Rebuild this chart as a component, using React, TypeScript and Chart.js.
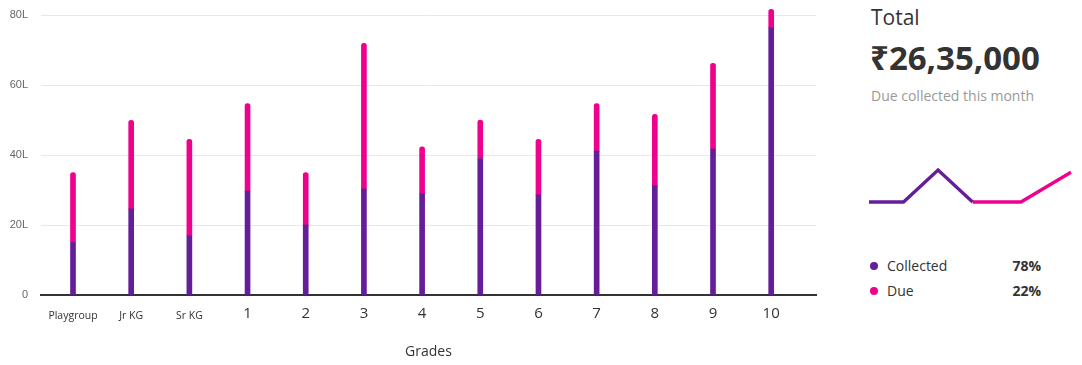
import React, { useEffect, useRef } from "react";
import { Chart, registerables } from "chart.js";

Chart.register(...registerables);

const grades = ["Playgroup", "Jr KG", "Sr KG", "1", "2", "3", "4", "5", "6", "7", "8", "9", "10"];
const collected = [15, 24.6, 17, 29.7, 20, 30.3, 29, 39, 28.6, 41.1, 31.2, 41.7, 76.3];
const due = [20, 25.3, 27.5, 25, 15, 41.6, 13.3, 11, 15.9, 13.6, 20.4, 24.5, 5.3];
const yTicks = [0, 20, 40, 60, 80];
const yTickLabels = ["0", "20L", "40L", "60L", "80L"];

const trendCollectedX = [0, 1, 2, 3];
const trendCollectedY = [0, 0, 1, 0];
const trendDueX = [3, 4.4, 5.85];
const trendDueY = [0, 0, 0.93];

const PURPLE = "#651d99";
const PINK = "#ee028d";
const UI_FONT = "'Open Sans', 'Noto Sans', sans-serif";

export default function App() {
  const barRef = useRef<HTMLCanvasElement>(null);
  const lineRef = useRef<HTMLCanvasElement>(null);

  useEffect(() => {
    const bar = new Chart(barRef.current!, {
      type: "bar",
      data: {
        datasets: [
          {
            label: "Collected",
            data: collected.map((v, i) => ({ x: i, y: v })),
            backgroundColor: PURPLE,
            barThickness: 5,
            stack: "s",
            clip: false,
          },
          {
            label: "Due",
            data: due.map((v, i) => ({ x: i, y: v })),
            backgroundColor: PINK,
            barThickness: 5,
            borderRadius: 2.5,
            stack: "s",
            clip: false,
          },
        ],
      },
      options: {
        responsive: false,
        animation: false,
        layout: { padding: { left: 8, right: 14, top: 15, bottom: 0 } },
        plugins: { legend: { display: false }, tooltip: { enabled: false } },
        scales: {
          x: {
            type: "linear",
            stacked: true,
            offset: false,
            min: -0.55,
            max: 12.77,
            afterBuildTicks: (scale: any) => {
              scale.ticks = grades.map((_, i) => ({ value: i }));
            },
            afterFit: (scale: any) => {
              scale.height = 70;
            },
            grid: { display: false, drawTicks: false },
            border: { display: true, color: "#333333", width: 2 },
            ticks: {
              autoSkip: false,
              maxRotation: 0,
              padding: 10,
              color: "#333333",
              callback: (v: any) => grades[v] ?? "",
              font: (ctx: any) => {
                const lbl = grades[ctx.tick ? ctx.tick.value : ctx.index] || "";
                return /^\d+$/.test(lbl)
                  ? { family: UI_FONT, size: 15, lineHeight: 1.2 }
                  : { family: UI_FONT, size: 10.5, lineHeight: 2.1 };
              },
            },
            title: {
              display: true,
              text: "Grades",
              color: "#333333",
              font: { family: UI_FONT, size: 14 },
              padding: { top: 0, bottom: 5 },
            },
          },
          y: {
            stacked: true,
            min: 0,
            max: 80,
            afterBuildTicks: (scale: any) => {
              scale.ticks = yTicks.map((v) => ({ value: v }));
            },
            afterFit: (scale: any) => {
              scale.width = 33;
            },
            grid: {
              color: "#e8e8e8",
              lineWidth: 1,
              drawTicks: true,
              tickLength: 13,
              tickColor: "rgba(0,0,0,0)",
            },
            border: { display: false },
            ticks: {
              padding: 0,
              color: "#666666",
              font: { family: "'Liberation Sans', Arial, sans-serif", size: 11 },
              callback: (v: any) => yTickLabels[yTicks.indexOf(v)] ?? "",
            },
          },
        },
      },
    });

    const line = new Chart(lineRef.current!, {
      type: "line",
      data: {
        datasets: [
          {
            data: trendCollectedX.map((x, i) => ({ x, y: trendCollectedY[i] })),
            borderColor: PURPLE,
            borderWidth: 3.3,
            pointRadius: 0,
            tension: 0,
            clip: false,
          },
          {
            data: trendDueX.map((x, i) => ({ x, y: trendDueY[i] })),
            borderColor: PINK,
            borderWidth: 3.3,
            pointRadius: 0,
            tension: 0,
            clip: false,
          },
        ],
      },
      options: {
        responsive: false,
        animation: false,
        layout: { padding: { left: 9, right: 11, top: 20, bottom: 28 } },
        plugins: { legend: { display: false }, tooltip: { enabled: false } },
        scales: {
          x: { type: "linear", min: 0, max: 5.85, display: false },
          y: { min: 0, max: 1, display: false },
        },
      },
    });

    return () => {
      bar.destroy();
      line.destroy();
    };
  }, []);

  const dot = (c: string) => ({
    display: "inline-block",
    width: 8,
    height: 8,
    borderRadius: "50%",
    background: c,
    position: "absolute" as const,
    left: 0,
    top: 6,
  });

  return (
    <div style={{ position: "fixed", left: 0, top: 0, width: 1082, height: 365, background: "#fff", fontFamily: UI_FONT }}>
      <canvas ref={barRef} width={830} height={365} style={{ position: "absolute", left: 0, top: 0 }} />
      <div style={{ position: "absolute", left: 871, top: 2, fontSize: 21, color: "#333", lineHeight: "30px" }}>Total</div>
      <div style={{ position: "absolute", left: 870, top: 36, fontSize: 33, fontWeight: 700, color: "#333", lineHeight: "44px" }}>₹26,35,000</div>
      <div style={{ position: "absolute", left: 871, top: 86, fontSize: 14, color: "#999", lineHeight: "20px" }}>Due collected this month</div>
      <canvas ref={lineRef} width={222} height={80} style={{ position: "absolute", left: 860, top: 150 }} />
      <div style={{ position: "absolute", left: 870, top: 256, width: 175, fontSize: 14, color: "#333", lineHeight: "20px" }}>
        <div style={{ position: "relative", paddingLeft: 17, height: 25 }}>
          <span style={dot(PURPLE)} />
          Collected
          <span style={{ position: "absolute", right: 4, fontWeight: 700 }}>78%</span>
        </div>
        <div style={{ position: "relative", paddingLeft: 17, height: 25 }}>
          <span style={dot(PINK)} />
          Due
          <span style={{ position: "absolute", right: 4, fontWeight: 700 }}>22%</span>
        </div>
      </div>
    </div>
  );
}
